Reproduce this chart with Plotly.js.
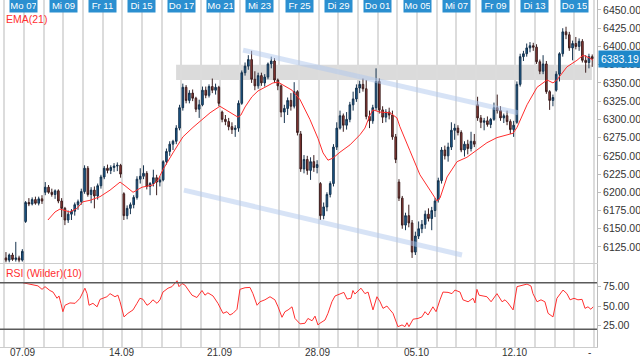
<!DOCTYPE html>
<html><head><meta charset="utf-8">
<script src="https://cdn.plot.ly/plotly-3.0.1.min.js"></script>
<style>html,body{margin:0;padding:0;background:#fff}#chart{width:640px;height:358px}</style>
</head><body><div id="chart"></div>
<script>
// ---- data ----
const dayLabels = ['Mo 07','Mi 09','Fr 11','Di 15','Do 17','Mo 21','Mi 23','Fr 25','Di 29','Do 01','Mo 05','Mi 07','Fr 09','Di 13','Do 15'];
const dayLabelPos = [0,2,4,6,8,10,12,14,16,18,20,22,24,26,28];
const dateTicks = ['07.09','14.09','21.09','28.09','05.10','12.10'];
const dateTickPos = [0,5,10,15,20,25];
const firstDay = -1;
const barsPerDay = 6;

const open = [
 6110,6107,6114,6108,6110,6107,
 6160,6186,6184,6190,6185,6191,
 6200,6207,6200,6197,6202,6188,
 6178,6162,6170,6174,6183,6187,
 6201,6233,6197,6203,6195,6209,
 6221,6233,6230,6234,6236,6237,
 6198,6168,6178,6183,6193,6218,
 6222,6226,6208,6212,6220,6214,
 6217,6242,6256,6266,6270,6288,
 6316,6344,6326,6336,6329,6314,
 6320,6340,6333,6345,6340,6344,
 6310,6300,6297,6290,6286,6288,
 6322,6364,6373,6382,6355,6346,
 6360,6350,6358,6376,6380,6354,
 6346,6310,6315,6326,6318,6338,
 6280,6232,6245,6230,6242,6234,
 6212,6168,6180,6197,6212,6262,
 6288,6305,6292,6300,6320,6328,
 6343,6348,6342,6304,6298,6316,
 6352,6313,6303,6310,6306,6276,
 6214,6192,6155,6168,6158,6118,
 6140,6150,6156,6170,6164,6175,
 6190,6216,6258,6250,6262,6285,
 6288,6282,6258,6266,6260,6270,
 6320,6302,6296,6298,6293,6300,
 6316,6312,6302,6305,6297,6286,
 6296,6348,6386,6390,6398,6401,
 6399,6379,6366,6376,6338,6326,
 6340,6362,6390,6420,6416,6398,
 6404,6400,6407,6381,6378,6386];
const high = [
 6118,6116,6117,6132,6113,6122,
 6188,6192,6193,6194,6194,6196,
 6214,6210,6205,6204,6204,6192,
 6180,6175,6177,6186,6190,6205,
 6237,6236,6207,6208,6212,6224,
 6236,6238,6237,6240,6241,6239,
 6200,6182,6186,6196,6222,6233,
 6237,6229,6214,6231,6224,6222,
 6244,6260,6270,6272,6292,6320,
 6349,6347,6340,6341,6331,6327,
 6345,6345,6348,6356,6349,6346,
 6312,6306,6302,6296,6292,6326,
 6367,6378,6388,6394,6366,6364,
 6364,6362,6378,6386,6384,6356,
 6348,6320,6330,6336,6351,6340,
 6284,6251,6250,6248,6251,6244,
 6214,6186,6200,6215,6266,6296,
 6312,6308,6310,6324,6338,6348,
 6353,6356,6354,6312,6320,6370,
 6356,6318,6314,6316,6312,6280,
 6218,6195,6172,6183,6162,6146,
 6160,6162,6175,6178,6180,6192,
 6220,6262,6264,6268,6296,6294,
 6292,6285,6270,6272,6283,6280,
 6331,6306,6302,6304,6302,6323,
 6334,6318,6308,6312,6300,6298,
 6352,6390,6394,6404,6406,6405,
 6403,6382,6388,6380,6340,6334,
 6366,6392,6425,6427,6420,6408,
 6413,6411,6410,6388,6390,6389];
const low = [
 6104,6104,6106,6105,6104,6105,
 6158,6181,6182,6183,6182,6184,
 6196,6198,6194,6191,6185,6166,
 6155,6158,6162,6168,6176,6183,
 6198,6194,6185,6178,6190,6205,
 6218,6226,6225,6228,6229,6220,
 6162,6163,6170,6178,6190,6212,
 6218,6204,6196,6208,6196,6208,
 6215,6238,6250,6258,6266,6285,
 6312,6322,6322,6325,6310,6302,
 6318,6329,6330,6336,6334,6318,
 6296,6292,6285,6280,6276,6283,
 6320,6360,6368,6350,6340,6342,
 6346,6345,6355,6370,6350,6340,
 6303,6295,6306,6312,6315,6278,
 6228,6226,6224,6217,6228,6226,
 6162,6163,6174,6193,6208,6258,
 6286,6283,6286,6296,6312,6324,
 6336,6338,6300,6288,6294,6312,
 6308,6295,6296,6300,6272,6240,
 6188,6150,6148,6152,6110,6114,
 6136,6144,6150,6160,6148,6166,
 6186,6212,6245,6242,6258,6272,
 6278,6255,6249,6252,6256,6262,
 6298,6288,6285,6290,6288,6298,
 6308,6298,6295,6292,6280,6276,
 6294,6345,6380,6386,6392,6394,
 6376,6362,6362,6335,6313,6318,
 6338,6352,6386,6410,6394,6381,
 6396,6394,6378,6364,6370,6372];
const close = [
 6107,6114,6108,6110,6107,6119,
 6186,6184,6190,6185,6191,6188,
 6207,6200,6197,6202,6188,6178,
 6162,6170,6174,6183,6187,6201,
 6233,6197,6203,6195,6209,6221,
 6233,6230,6234,6236,6237,6225,
 6168,6178,6183,6193,6218,6222,
 6226,6208,6212,6220,6214,6217,
 6242,6256,6266,6270,6288,6316,
 6344,6326,6336,6329,6314,6320,
 6340,6333,6345,6340,6344,6322,
 6300,6297,6290,6286,6288,6322,
 6364,6373,6382,6355,6346,6360,
 6350,6358,6376,6380,6354,6346,
 6310,6315,6326,6318,6338,6282,
 6232,6245,6230,6242,6234,6238,
 6168,6180,6197,6212,6262,6288,
 6305,6292,6300,6320,6328,6343,
 6348,6342,6304,6298,6316,6352,
 6313,6303,6310,6306,6276,6245,
 6192,6155,6168,6158,6118,6140,
 6150,6156,6170,6164,6175,6188,
 6216,6258,6250,6262,6285,6288,
 6282,6258,6266,6260,6270,6266,
 6302,6296,6298,6293,6300,6316,
 6312,6302,6305,6297,6286,6292,
 6348,6386,6390,6398,6401,6399,
 6379,6366,6376,6338,6326,6330,
 6362,6390,6420,6416,6398,6404,
 6400,6407,6381,6378,6386,6383.19];

const emaT = [1.22,1.58,1.83,2.34,2.70,3.00,3.36,3.87,4.38,4.89,5.14,5.55,6.01,6.56,6.82,7.07,7.58,8.09,8.60,9.06,9.47,9.97,10.48,10.89,11.04,11.25,11.60,11.91,12.26,12.67,12.93,13.18,13.64,14.05,14.55,14.96,15.22,15.47,15.73,16.08,16.59,17.10,17.35,17.61,17.76,18.12,18.63,18.98,19.13,19.64,20.15,20.66,21.02,21.17,21.53,22.04,22.54,23.05,23.56,24.07,24.58,24.89,25.09,25.60,26.11,26.62,26.92,27.12,27.63,28.14,28.45,28.80,28.96];
const emaV = [6162,6173,6177,6173,6178,6187,6189,6194,6203,6214,6209,6200,6207,6210,6217,6231,6254,6276,6289,6299,6309,6318,6310,6303,6306,6317,6331,6339,6344,6350,6351,6347,6340,6327,6300,6274,6254,6244,6247,6255,6265,6279,6288,6306,6313,6310,6309,6302,6290,6257,6224,6203,6188,6192,6221,6242,6248,6258,6268,6275,6279,6281,6289,6320,6344,6354,6350,6354,6372,6381,6388,6384,6381];

const rsiT = [-0.05,0.20,0.46,0.71,0.92,1.07,1.32,1.48,1.68,1.78,1.88,1.98,2.09,2.34,2.60,2.85,3.10,3.21,3.31,3.51,3.72,3.87,4.22,4.38,4.63,4.78,4.89,5.09,5.29,5.55,5.75,5.90,6.06,6.26,6.41,6.56,6.77,6.92,7.07,7.33,7.53,7.68,7.79,7.89,8.04,8.19,8.35,8.55,8.80,9.06,9.21,9.36,9.62,9.87,10.13,10.33,10.48,10.64,10.84,10.99,11.25,11.50,11.65,11.86,12.01,12.26,12.52,12.77,12.93,13.13,13.28,13.44,13.64,13.79,14.05,14.30,14.45,14.66,14.81,14.96,15.06,15.32,15.47,15.67,15.83,16.08,16.28,16.44,16.64,16.74,16.84,17.15,17.35,17.51,17.71,17.76,17.96,18.12,18.27,18.47,18.63,18.78,19.03,19.24,19.39,19.49,19.59,19.80,20.05,20.25,20.41,20.56,20.81,20.97,21.17,21.32,21.58,21.78,21.93,22.19,22.34,22.60,22.85,22.95,23.05,23.16,23.36,23.56,23.77,24.07,24.33,24.48,24.63,24.89,25.09,25.34,25.60,25.80,25.90,26.11,26.31,26.51,26.67,26.92,27.12,27.43,27.63,27.79,27.99,28.19,28.40,28.55,28.70,28.85,28.96];
const rsiV = [80,79,77,76,71.5,75,70,68,60,63,53.5,42.7,51,54,53.5,60,73,66,51,53.5,49,58.6,62,66,62,64,55.5,36,40.6,45,53.5,60,58.6,51,53.5,58,53.5,58,68,73,75,80,82.6,75,79,77,70.6,64,61,70,64,67,63,53.5,40.6,42.7,38.4,40.6,45.8,71.5,73.6,74,66,51,55.5,58,62,58,49,35.5,42.7,45,49,34,27,27.8,34,31,37,25.6,27.8,32,40.6,55.5,63,66,67.6,59,60,70,65.5,73,66,68,47,45,62,55.5,47,50,45,40.6,23.4,25.6,23.4,28.5,23.4,33,34,36,42.7,38.4,49,42.7,58,68,67.6,66,70.6,68,58,55.5,60,54,71.5,64,63,62,55.5,66,55.5,58,54,45,75,77,78.3,75.8,66,55.5,58,55.5,40.6,36,60,70.6,66,58,60,58,58.6,47,49,45.8,49];

const lastPrice = 6383.19;
const zoneT = [7.74, 28.9];
const zoneP = [6354, 6375];
const upperT = [11.15, 25.14], upperP = [6395, 6309];
const lowerT = [8.14, 22.29], lowerP = [6203, 6114];
const rsiLevels = [20, 80];
const priceTicks = [6125,6150,6175,6200,6225,6250,6275,6300,6325,6350,6375,6400,6425,6450];
const rsiTicks = [25, 50, 75];

// ---- build ----
const t = open.map((_, i) => firstDay + (i + 0.5) / barsPerDay);
const allDays = [];
for (let d = -1; d <= 29; d++) allDays.push(d);
const FONT = 'Arial, "Liberation Sans", sans-serif';
const XR = [-1.22, 29.16];

const traces = [
  {type:'candlestick', x:t, open:open, high:high, low:low, close:close, xaxis:'x', yaxis:'y',
   increasing:{line:{color:'#15324d', width:1}, fillcolor:'#1d5f95'},
   decreasing:{line:{color:'#3d1f1f', width:1}, fillcolor:'#9a3d38'},
   whiskerwidth:0, hoverinfo:'skip', showlegend:false},
  {type:'scatter', mode:'lines', x:emaT, y:emaV, xaxis:'x', yaxis:'y',
   line:{color:'#ff2d2d', width:1}, hoverinfo:'skip', showlegend:false},
  {type:'scatter', mode:'lines', x:upperT, y:upperP, xaxis:'x', yaxis:'y',
   line:{color:'rgba(175,200,238,0.5)', width:5}, hoverinfo:'skip', showlegend:false},
  {type:'scatter', mode:'lines', x:lowerT, y:lowerP, xaxis:'x', yaxis:'y',
   line:{color:'rgba(175,200,238,0.5)', width:5}, hoverinfo:'skip', showlegend:false},
  {type:'scatter', mode:'lines', x:rsiT, y:rsiV, xaxis:'x2', yaxis:'y2',
   line:{color:'#ff3030', width:1}, hoverinfo:'skip', showlegend:false}
];

const shapes = [
  {type:'rect', xref:'x', yref:'y', x0:zoneT[0], x1:zoneT[1], y0:zoneP[0], y1:zoneP[1],
   fillcolor:'rgba(190,190,190,0.55)', line:{width:0}, layer:'below'}
];
rsiLevels.forEach(v => shapes.push({type:'line', xref:'x2 domain', yref:'y2', x0:0, x1:1, y0:v, y1:v,
  line:{color:'#5a5a5a', width:1.5}}));

const annotations = dayLabels.map((s, i) => ({
  x: dayLabelPos[i], xref:'x', y:1, yref:'paper', yanchor:'top', yshift:2, text:s, showarrow:false,
  font:{family:FONT, size:9.5, color:'#ffffff'}, bgcolor:'#2b8fd0', borderpad:1, width:25
}));
annotations.push({x:0, xref:'paper', xanchor:'left', xshift:4, y:0.945, yref:'paper', yanchor:'middle',
  text:'EMA(21)', showarrow:false, font:{family:FONT, size:10.5, color:'#ff3030'}});
annotations.push({x:0, xref:'paper', xanchor:'left', xshift:4, y:0.213, yref:'paper', yanchor:'middle',
  text:'RSI (Wilder)(10)', showarrow:false, font:{family:FONT, size:10.5, color:'#ff3030'}});
annotations.push({x:1, xref:'paper', xanchor:'left', xshift:1, y:lastPrice, yref:'y', yanchor:'middle',
  text:lastPrice.toFixed(2), showarrow:false, font:{family:FONT, size:10.5, color:'#ffffff'},
  bgcolor:'#1e87c9', borderpad:2, width:38, align:'left'});
dateTicks.forEach((s, i) => annotations.push({x:dateTickPos[i], xref:'x', y:0, yref:'paper', yanchor:'middle',
  yshift:-5.5, xshift:-1, text:s, showarrow:false, font:{family:FONT, size:10, color:'#333'}, borderpad:0}));
annotations.push({x:28.8, xref:'x', y:0, yref:'paper', yanchor:'middle', yshift:-5.5, text:'-', showarrow:false,
  font:{family:FONT, size:10, color:'#333'}, borderpad:0});

const layout = {
  width:640, height:358, margin:{l:0, r:43, t:0, b:11},
  paper_bgcolor:'#fff', plot_bgcolor:'#fff', showlegend:false,
  font:{family:FONT, size:10, color:'#333'},
  xaxis:{domain:[0,1], anchor:'y', range:XR, tickmode:'array', tickvals:allDays, showticklabels:false,
    showgrid:true, gridcolor:'#dcdcdc', gridwidth:2, zeroline:false, showline:true, linecolor:'#cccccc',
    rangeslider:{visible:false}, ticks:''},
  yaxis:{domain:[0.242,1], anchor:'x', side:'right', range:[6103, 6463.7], tickmode:'array',
    tickvals:priceTicks, ticktext:priceTicks.map(v => v.toFixed(2)), showgrid:false, zeroline:false,
    showline:true, linecolor:'#bbbbbb', ticks:'outside', ticklen:3, tickcolor:'#bbbbbb',
    tickfont:{family:FONT, size:10.5, color:'#333'}},
  xaxis2:{domain:[0,1], anchor:'y2', matches:'x', range:XR, tickmode:'array', tickvals:allDays, showticklabels:false,
    showgrid:true, gridcolor:'#dcdcdc', gridwidth:2, zeroline:false, showline:true, linecolor:'#cccccc',
    ticks:''},
  yaxis2:{domain:[0,0.239], anchor:'x2', side:'right', range:[-2.8, 104.1], tickmode:'array',
    tickvals:rsiTicks, ticktext:rsiTicks.map(v => v.toFixed(2)), showgrid:false, zeroline:false,
    showline:true, linecolor:'#bbbbbb', ticks:'outside', ticklen:3, tickcolor:'#bbbbbb',
    tickfont:{family:FONT, size:10.5, color:'#333'}},
  shapes:shapes, annotations:annotations
};

Plotly.newPlot('chart', traces, layout, {displayModeBar:false, staticPlot:true});
</script></body></html>
